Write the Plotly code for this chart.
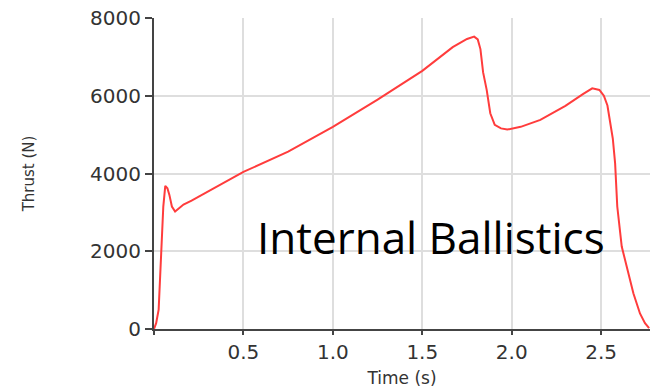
import plotly.graph_objects as go

# Motor thrust curve from the internal ballistics simulation
time_s = [0.000, 0.012, 0.026, 0.036, 0.045, 0.052, 0.063, 0.075, 0.086, 0.100,
          0.118, 0.140, 0.165, 0.210, 0.300, 0.500, 0.750, 1.000, 1.250, 1.500,
          1.670, 1.750, 1.790, 1.810, 1.825, 1.840, 1.860, 1.880, 1.905, 1.940,
          1.975, 2.050, 2.160, 2.300, 2.400, 2.450, 2.490, 2.515, 2.535, 2.550,
          2.565, 2.578, 2.590, 2.615, 2.645, 2.680, 2.717, 2.745, 2.768]
thrust_n = [0, 150, 500, 1400, 2200, 3150, 3680, 3620, 3450, 3150,
            3020, 3100, 3200, 3300, 3530, 4040, 4560, 5200, 5900, 6640,
            7250, 7460, 7520, 7450, 7200, 6600, 6150, 5550, 5250, 5160,
            5130, 5200, 5380, 5740, 6050, 6190, 6150, 6000, 5750, 5350,
            4900, 4260, 3150, 2120, 1600, 920, 400, 150, 20]

x_tickvals = [0, 0.5, 1.0, 1.5, 2.0, 2.5]
x_ticktext = ["", "0.5", "1.0", "1.5", "2.0", "2.5"]
y_tickvals = [0, 2000, 4000, 6000, 8000]
y_ticktext = ["0", "2000", "4000", "6000", "8000"]

tick_font = dict(family="DejaVu Sans", size=20, color="#333333")
title_font = dict(family="DejaVu Sans", size=17, color="#333333")

fig = go.Figure()
fig.add_trace(go.Scatter(
    x=time_s, y=thrust_n, mode="lines",
    line=dict(color="#ff3c3c", width=2),
    showlegend=False, hoverinfo="skip",
))

fig.update_layout(
    width=664, height=391,
    margin=dict(l=154, r=14, t=18, b=62),
    paper_bgcolor="white", plot_bgcolor="white",
    xaxis=dict(
        range=[0, 2.773], tickmode="array", tickvals=x_tickvals, ticktext=x_ticktext,
        showgrid=True, gridcolor="#dedede", gridwidth=1.5,
        showline=True, linecolor="#444444", linewidth=2,
        ticks="outside", ticklen=4, tickcolor="#444444", tickwidth=1.5,
        tickfont=tick_font, zeroline=False, automargin=False,
        title=dict(text="Time (s)", font=title_font, standoff=9),
    ),
    yaxis=dict(
        range=[0, 8000], tickmode="array", tickvals=y_tickvals, ticktext=y_ticktext,
        showgrid=True, gridcolor="#dedede", gridwidth=1.5,
        showline=True, linecolor="#444444", linewidth=2,
        ticks="outside", ticklen=7, tickcolor="#444444", tickwidth=1.5,
        tickfont=tick_font, zeroline=False, automargin=False,
        title=dict(text="Thrust (N)", font=dict(family="DejaVu Sans", size=15, color="#333333"),
                   standoff=52),
    ),
)

fig.add_annotation(
    text="Internal Ballistics", xref="paper", yref="paper",
    x=(431 - 154) / 496, y=(329 - 237) / 311,
    xanchor="center", yanchor="middle", showarrow=False,
    font=dict(family="Open Sans", size=44, color="black"),
)

fig.write_html("out.html")
